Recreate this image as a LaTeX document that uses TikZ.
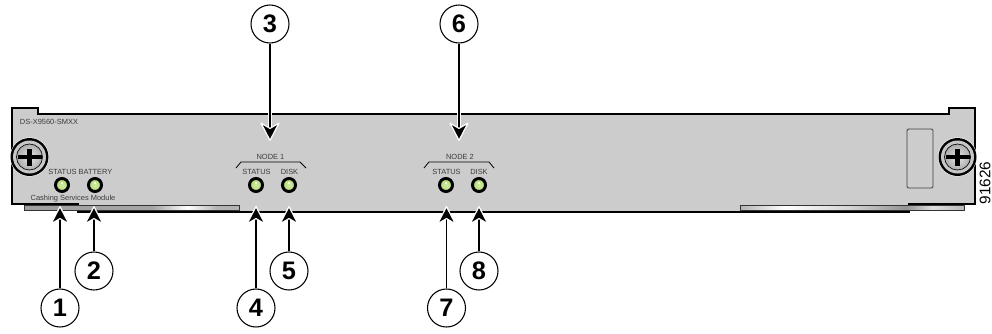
\documentclass[tikz,border=0pt]{standalone}
\usepackage{fontspec}
\setmainfont{Liberation Sans}
\usetikzlibrary{arrows.meta}
\newcommand{\ledsize}{4.9pt}
\definecolor{panelgray}{HTML}{CCCCCC}
\definecolor{printgray}{HTML}{3C3C3C}
\definecolor{ledgreen}{HTML}{B0D868}
\pgfdeclarehorizontalshading{railleft}{100bp}{color(0bp)=(gray!75);color(25bp)=(gray!75);color(55bp)=(gray!70);color(63bp)=(white);color(70bp)=(gray!60);color(100bp)=(gray!60)}
\pgfdeclarehorizontalshading{railright}{100bp}{color(0bp)=(gray!60);color(25bp)=(gray!60);color(35bp)=(white);color(50bp)=(gray!35);color(62bp)=(gray!85);color(68bp)=(gray!25);color(75bp)=(gray!55);color(100bp)=(gray!55)}
\tikzset{
  num/.style={draw, circle, fill=white, line width=.8pt, inner sep=0pt, minimum size=28.5pt, font=\bfseries\fontsize{19}{19}\selectfont},
  callout/.style={draw=black, line width=1.1pt, preaction={draw=white, line width=3pt, -, shorten >=6pt},
    -{Stealth[round, length=15pt, width=15.5pt, inset=4.5pt, line width=.9pt, color=white, fill=black]}},
  lbl/.style={inner sep=0pt, text=printgray, font=\fontsize{5.6}{6}\selectfont},
  led/.style={draw=black, circle, inner color=ledgreen!55!white, outer color=ledgreen, line width=2.2pt, inner sep=0pt, minimum size=2*\ledsize},
  screw/.style={draw=black, circle, inner sep=0pt, inner color=gray!20, outer color=gray!65}
}
\begin{document}
\begin{tikzpicture}[x=.75pt,y=-.75pt]
  \useasboundingbox (0,0) rectangle (992,333);
  % panel
  \draw[fill=panelgray, line width=1.6pt, line join=miter]
    (12,108) -- (38,108) -- (38,114) -- (949,114) -- (949,108) -- (975,108) -- (975,204)
    -- (909,204) -- (909,212) -- (78,212) -- (78,204) -- (12,204) -- cycle;
  \shade[shading=railleft, draw=black!80, line width=.6pt] (24,205) rectangle (239,210);
  \shade[shading=railright, draw=black!80, line width=.6pt] (740,205) rectangle (964,210);
  \draw[black, line width=1.6pt] (12,204) -- (78,204) (909,204) -- (975,204);
  \draw[draw=black!75, line width=.7pt, rounded corners=1pt] (907,129) rectangle (933,188);
  % screws
  \foreach \name/\x in {screwl/29.5,screwr/957.5}
    {
      \fill[white] (\x,157) circle (19.5*.75pt);
      \fill[black] (\x,157) circle (19*.75pt);
      \fill[gray!45!white] (\x,157) circle (16.5*.75pt);
      \node (\name) at (\x,157) [screw, minimum size=19.5pt, line width=.5pt] {};
      \fill[black] (\x-12,154.7) rectangle (\x+12,159.3);
      \fill[black] (\x-2.3,148.5) rectangle (\x+2.3,165.5);
    }
  % LEDs
  \foreach \i/\x in {1/62,2/95,4/256,5/289,7/446,8/479}
    {
      \node (led\i) at (\x,185) [led] {};
      \fill[white] (\x,183) circle (.9pt);
    }
  % panel print
  \node (model) at (49,122) [lbl] {DS-X9560-SMXX};
  \node (name) at (73,198.5) [lbl] {Cashing Services Module};
  \node (s1) at (62.5,172) [lbl] {STATUS};
  \node (b1) at (95.5,172) [lbl] {BATTERY};
  \node (s2) at (256.5,172) [lbl] {STATUS};
  \node (d2) at (289.5,172) [lbl] {DISK};
  \node (s3) at (446.5,172) [lbl] {STATUS};
  \node (d3) at (479,172) [lbl] {DISK};
  \node (nodeone) at (270.5,157) [lbl] {NODE 1};
  \node (nodetwo) at (460,156.5) [lbl] {NODE 2};
  \draw[black, line width=.6pt] (236,168) -- (241,162) -- (300,162) -- (306,168);
  \draw[black, line width=.6pt] (424,168) -- (429,162) -- (489,162) -- (494,168);
  % numbered callouts
  \foreach \i/\x/\y/\tipy in {1/60/308/206,2/94/271/206,3/270/24/141,4/256/308/206,5/289/271/206,6/459/24/141,7/446.5/308/206,8/479/271/206}
    {
      \node (n\i) at (\x,\y) [num] {\i};
      \coordinate (tip\i) at (\x,\tipy);
      \draw[callout] (n\i) -- (tip\i);
    }
  \node (partno) at (985,183) [rotate=90, inner sep=0pt, font=\fontsize{11.5}{12}\selectfont] {91626};
\end{tikzpicture}
\end{document}
